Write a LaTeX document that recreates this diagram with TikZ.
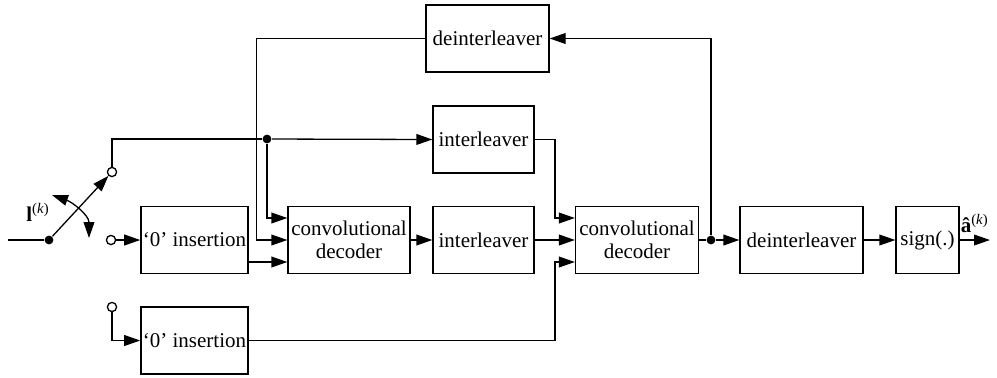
\documentclass[tikz,border=0pt]{standalone}
\usepackage{fontspec}
\setmainfont{Liberation Serif}
\usetikzlibrary{arrows.meta,calc}

\begin{document}
\begin{tikzpicture}[x=0.5pt,y=-0.5pt,line width=0.65pt,>={Triangle[length=8pt,width=5.4pt]},
  font=\fontsize{10.5}{11.5}\selectfont,
  blk/.style={draw,inner sep=1pt,minimum height=33.5pt,align=center},
  port/.style={draw,circle,inner sep=0pt,minimum size=4.6pt,fill=white},
  dot/.style={fill,circle,inner sep=0pt,minimum size=4.4pt}]
  \useasboundingbox (0,0) rectangle (997,377);
  % blocks
  \node[blk,minimum width=61.5pt] (dtop) at (487.5,38.5) {deinterleaver};
  \node[blk,minimum width=50.5pt] (itop) at (483.5,139.5) {interleaver};
  \node[blk,minimum width=51.5pt] (ins1) at (194.5,240) {`0' insertion};
  \node[blk,minimum width=61pt] (conv1) at (349,240) {convolutional\\decoder};
  \node[blk,minimum width=50.5pt] (imid) at (483.5,240) {interleaver};
  \node[blk,minimum width=61.5pt] (conv2) at (637,240) {convolutional\\decoder};
  \node[blk,minimum width=61.5pt] (dout) at (801.5,240) {deinterleaver};
  \node[blk,minimum width=31.5pt] (sgn) at (927.5,240) {sign(.)};
  \node[blk,minimum width=52pt] (ins2) at (194.5,340.5) {`0' insertion};
  % switch
  \coordinate (in) at (8,240);
  \node[dot] (piv) at (49,240) {};
  \node[port] (pa) at (112,172) {};
  \node[port] (pb) at (111,240) {};
  \node[port] (pc) at (112,307) {};
  \node (lk) at (38,212) {\textbf{l}\textsuperscript{(\textit{k})}};
  \draw (in) -- (piv);
  \draw[->] (piv) -- (pa);
  \draw[<->] (52,195) .. controls (72,202) and (89,215) .. (89,238);
  % first stage
  \node[dot] (j1) at (267,139) {};
  \draw (pa) |- (j1);
  \draw[->] (j1) -- (itop.west);
  \draw[->] (j1) |- ($(conv1.west)+(0,-22)$);
  \draw[->] (dtop.west) -| ($(conv1.west)+(-31,0)$) -- (conv1.west);
  \draw[->] (pb) -- (ins1);
  \draw[->] ($(ins1.east)+(0,22)$) -- ($(conv1.west)+(0,22)$);
  \draw[->] (pc) |- (ins2.west);
  \draw[->] (conv1) -- (imid);
  % second stage
  \draw[->] (imid) -- (conv2);
  \draw[->] (itop.east) -| ($(conv2.west)+(-20,-22)$) -- ($(conv2.west)+(0,-22)$);
  \draw[->] (ins2.east) -| ($(conv2.west)+(-20,22)$) -- ($(conv2.west)+(0,22)$);
  \node[dot] (j2) at (711,240) {};
  \draw (conv2) -- (j2);
  \draw[->] (j2) -- (dout);
  \draw[->] (j2) |- (dtop.east);
  \draw[->] (dout) -- (sgn);
  \coordinate (out) at (990,240);
  \draw[->] (sgn) -- (out) node[above,pos=.5] {\textbf{â}\textsuperscript{(\textit{k})}};
\end{tikzpicture}
\end{document}
